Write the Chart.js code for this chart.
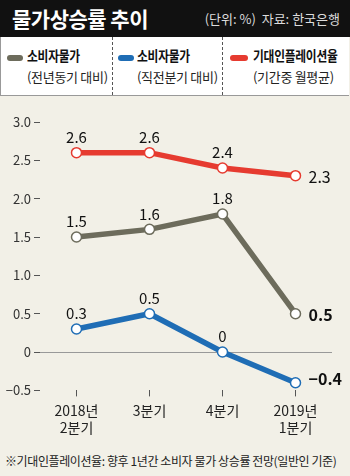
<!DOCTYPE html>
<html>
<head>
<meta charset="utf-8">
<script src="https://cdn.jsdelivr.net/npm/chart.js@4"></script>
<style>
  body { margin: 0; width: 350px; height: 476px; background: #f2f0e7; font-family: "Noto Sans CJK KR", sans-serif; position: relative; overflow: hidden; }
  #head { position: absolute; left: 0; top: 0; width: 350px; height: 37px; background: #111; color: #fff; }
  #head .t { position: absolute; left: 12px; top: 3px; font-size: 21px; font-weight: bold; letter-spacing: -0.5px; }
  #head .s { position: absolute; right: 10px; top: 9px; font-size: 13px; color: #ddd; letter-spacing: 0px; }
  #legend { position: absolute; left: 0; top: 37px; width: 348px; height: 58px; background: #fff; border-left: 1px solid #999; border-bottom: 1px solid #999; }
  .item { position: absolute; top: 0; height: 58px; }
  .item .sw { position: absolute; top: 18px; width: 16px; height: 6px; border-radius: 3px; }
  .item .a { position: absolute; top: 8px; font-size: 14px; font-weight: bold; color: #111; white-space: nowrap; letter-spacing: -0.3px; transform: scaleX(0.84); transform-origin: left center; }
  .item .b { position: absolute; top: 30px; font-size: 13px; color: #222; white-space: nowrap; letter-spacing: -0.3px; }
  .sep { position: absolute; top: 0; height: 58px; border-left: 1px dashed #555; }
  #wrap { position: absolute; left: 0; top: 100px; width: 350px; height: 342px; }
  #note { position: absolute; left: 5px; top: 452px; font-size: 12px; color: #222; white-space: nowrap; letter-spacing: -0.4px; }
</style>
</head>
<body>
<div id="head"><span class="t">물가상승률 추이</span><span class="s">(단위: %)&nbsp; 자료: 한국은행</span></div>
<div id="legend">
  <div class="item" style="left:6px"><div class="sw" style="background:#6d6c5c;left:0"></div><div class="a" style="left:20px">소비자물가</div><div class="b" style="left:20px">(전년동기 대비)</div></div>
  <div class="sep" style="left:111px"></div>
  <div class="item" style="left:117px"><div class="sw" style="background:#1f6db5;left:0"></div><div class="a" style="left:19px">소비자물가</div><div class="b" style="left:19px">(직전분기 대비)</div></div>
  <div class="sep" style="left:221px"></div>
  <div class="item" style="left:229px"><div class="sw" style="background:#e63b30;left:0;width:18px"></div><div class="a" style="left:23px">기대인플레이션율</div><div class="b" style="left:23px">(기간중 월평균)</div></div>
</div>
<div id="wrap"><canvas id="c"></canvas></div>
<div id="note">※기대인플레이션율: 향후 1년간 소비자 물가 상승률 전망(일반인 기준)</div>
<script>
// 분기
const quarters = [['2018년', '2분기'], '3분기', '4분기', ['2019년', '1분기']];
// 소비자물가 (전년동기 대비)
const cpiYoY = [1.5, 1.6, 1.8, 0.5];
// 소비자물가 (직전분기 대비)
const cpiQoQ = [0.3, 0.5, 0, -0.4];
// 기대인플레이션율 (기간중 월평균)
const expInfl = [2.6, 2.6, 2.4, 2.3];
const yTicks = [-0.5, 0, 0.5, 1.0, 1.5, 2.0, 2.5, 3.0];

const colors = ['#6d6c5c', '#1f6db5', '#e63b30'];

// 값 라벨: 마지막 점은 오른쪽, 나머지는 위
const valueLabels = {
  id: 'valueLabels',
  afterDatasetsDraw(chart) {
    const ctx = chart.ctx;
    chart.data.datasets.forEach((ds, i) => {
      const meta = chart.getDatasetMeta(i);
      meta.data.forEach((pt, j) => {
        const v = ds.data[j];
        const last = j === ds.data.length - 1;
        let txt = v === 0 ? '0' : (v < 0 ? '\u2212' + Math.abs(v).toFixed(1) : v.toFixed(1));
        ctx.save();
        ctx.fillStyle = '#111';
        if (last) {
          const bold = i < 2;
          ctx.font = (bold ? 'bold ' : '') + '16px "Noto Sans CJK KR"';
          ctx.textAlign = 'left';
          ctx.textBaseline = 'middle';
          ctx.fillText(txt, pt.x + 13, pt.y + (v < 0 ? -4 : 1));
        } else {
          ctx.font = '15px "Noto Sans CJK KR"';
          ctx.textAlign = 'center';
          ctx.textBaseline = 'bottom';
          ctx.fillText(txt, pt.x, pt.y - 8);
        }
        ctx.restore();
      });
    });
  }
};

function line(label, data, color) {
  return {
    label: label,
    data: data,
    borderColor: color,
    borderWidth: 5.5,
    pointRadius: 5,
    pointBorderWidth: 1.5,
    pointBackgroundColor: '#fff',
    pointBorderColor: color,
    tension: 0
  };
}

new Chart(document.getElementById('c'), {
  type: 'line',
  data: {
    labels: quarters,
    datasets: [
      line('소비자물가(전년동기 대비)', cpiYoY, colors[0]),
      line('소비자물가(직전분기 대비)', cpiQoQ, colors[1]),
      line('기대인플레이션율', expInfl, colors[2])
    ]
  },
  options: {
    responsive: true,
    maintainAspectRatio: false,
    animation: false,
    layout: { padding: { left: 0, right: 18, top: 22, bottom: 0 } },
    plugins: { legend: { display: false }, tooltip: { enabled: false } },
    scales: {
      x: {
        offset: true,
        border: { display: false },
        grid: { offset: false, drawOnChartArea: false, tickLength: 6, tickColor: '#555' },
        ticks: { color: '#222', font: { family: 'Noto Sans CJK KR', size: 14 }, padding: 6, maxRotation: 0 }
      },
      y: {
        min: -0.5,
        max: 3.0,
        afterBuildTicks(axis) { axis.ticks = yTicks.map(v => ({ value: v })); },
        afterFit(axis) { axis.width = 40; },
        border: { display: false },
        grid: {
          color: ctx => ctx.tick && ctx.tick.value === 0 ? '#999' : 'rgba(0,0,0,0)',
          lineWidth: 1,
          tickLength: 6,
          tickColor: '#555'
        },
        ticks: {
          color: '#333',
          padding: 3,
          font: { family: 'Noto Sans CJK KR', size: 13 },
          callback: v => v === 0 ? '0' : (v < 0 ? '\u2212' + Math.abs(v).toFixed(1) : v.toFixed(1))
        }
      }
    }
  },
  plugins: [valueLabels]
});
</script>
</body>
</html>
